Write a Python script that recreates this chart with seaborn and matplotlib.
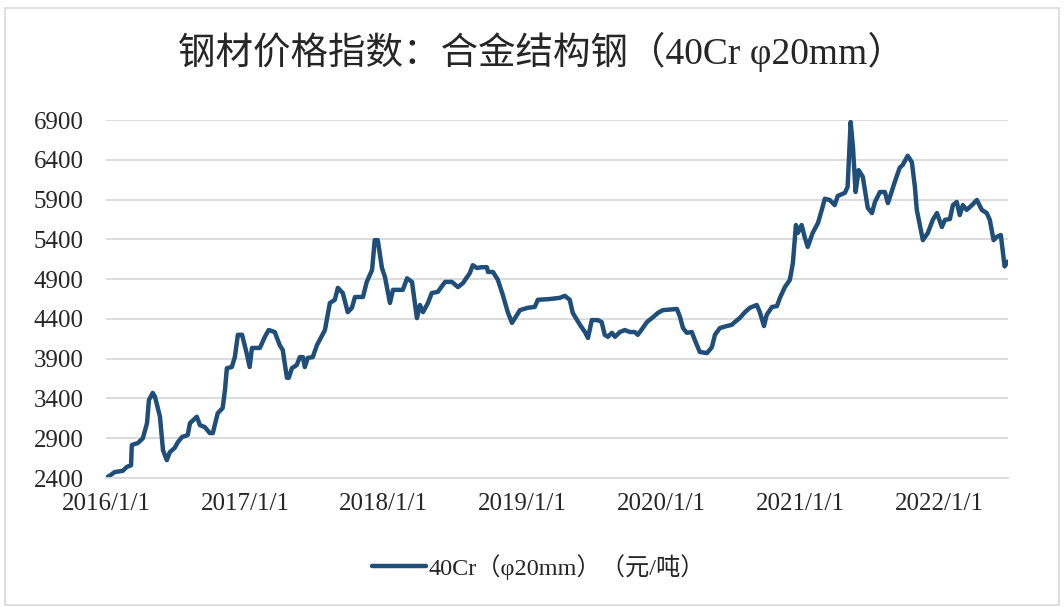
import pandas as pd
import matplotlib
matplotlib.use('Agg')
import matplotlib.pyplot as plt
import matplotlib.dates as mdates
from matplotlib.patches import Rectangle
import seaborn as sns

# ── DATA ───────────────────────────────────────────────────────────────────
dates = [
    '2016-01-01', '2016-01-11', '2016-01-24', '2016-02-14', '2016-02-25', '2016-03-07',
    '2016-03-09', '2016-03-25', '2016-04-07', '2016-04-18', '2016-04-23', '2016-05-03',
    '2016-05-09', '2016-05-22', '2016-05-30', '2016-06-09', '2016-06-17', '2016-06-30',
    '2016-07-08', '2016-07-19', '2016-08-03', '2016-08-09', '2016-08-27', '2016-09-04',
    '2016-09-17', '2016-09-30', '2016-10-08', '2016-10-21', '2016-11-03', '2016-11-09',
    '2016-11-14', '2016-11-27', '2016-12-05', '2016-12-13', '2016-12-24', '2017-01-05',
    '2017-01-13', '2017-01-19', '2017-02-09', '2017-02-22', '2017-03-04', '2017-03-20',
    '2017-04-02', '2017-04-10', '2017-04-21', '2017-04-26', '2017-05-04', '2017-05-17',
    '2017-05-25', '2017-06-02', '2017-06-07', '2017-06-15', '2017-06-28', '2017-07-09',
    '2017-07-30', '2017-08-12', '2017-08-25', '2017-09-02', '2017-09-15', '2017-09-28',
    '2017-10-09', '2017-10-17', '2017-11-07', '2017-11-17', '2017-12-01', '2017-12-08',
    '2017-12-16', '2017-12-27', '2018-01-04', '2018-01-17', '2018-01-25', '2018-02-20',
    '2018-03-03', '2018-03-16', '2018-03-29', '2018-04-06', '2018-04-14', '2018-04-27',
    '2018-05-07', '2018-05-23', '2018-06-11', '2018-06-29', '2018-07-15', '2018-07-28',
    '2018-08-15', '2018-08-23', '2018-09-03', '2018-09-16', '2018-09-29', '2018-10-02',
    '2018-10-15', '2018-10-28', '2018-11-10', '2018-11-23', '2018-12-04', '2018-12-12',
    '2018-12-25', '2019-01-15', '2019-02-02', '2019-02-10', '2019-03-14', '2019-04-09',
    '2019-04-22', '2019-05-05', '2019-05-13', '2019-06-01', '2019-06-14', '2019-06-22',
    '2019-07-02', '2019-07-18', '2019-07-28', '2019-08-05', '2019-08-13', '2019-08-24',
    '2019-09-01', '2019-09-14', '2019-09-27', '2019-10-10', '2019-10-23', '2019-10-31',
    '2019-11-13', '2019-11-24', '2019-12-07', '2019-12-23', '2020-01-05', '2020-02-11',
    '2020-02-19', '2020-02-27', '2020-03-08', '2020-03-21', '2020-03-29', '2020-04-11',
    '2020-04-30', '2020-05-13', '2020-05-21', '2020-06-03', '2020-06-21', '2020-07-04',
    '2020-07-12', '2020-07-25', '2020-08-08', '2020-08-21', '2020-09-08', '2020-09-16',
    '2020-09-27', '2020-10-04', '2020-10-18', '2020-10-31', '2020-11-08', '2020-11-21',
    '2020-12-04', '2020-12-12', '2020-12-20', '2020-12-25', '2021-01-04', '2021-01-12',
    '2021-01-20', '2021-02-02', '2021-02-16', '2021-02-26', '2021-03-06', '2021-03-19',
    '2021-04-01', '2021-04-09', '2021-04-28', '2021-05-05', '2021-05-13', '2021-05-19',
    '2021-05-26', '2021-06-03', '2021-06-14', '2021-06-27', '2021-07-08', '2021-07-16',
    '2021-07-29', '2021-08-11', '2021-08-19', '2021-09-06', '2021-09-19', '2021-09-27',
    '2021-10-10', '2021-10-21', '2021-10-29', '2021-11-03', '2021-11-19', '2021-12-02',
    '2021-12-15', '2021-12-26', '2022-01-08', '2022-01-16', '2022-01-29', '2022-02-06',
    '2022-02-16', '2022-02-24', '2022-03-04', '2022-03-14', '2022-03-28', '2022-04-10',
    '2022-04-23', '2022-05-06', '2022-05-14', '2022-05-24', '2022-06-01', '2022-06-12',
    '2022-06-22', '2022-06-30',
]
prices = [
    2400, 2430, 2475, 2490, 2540, 2560,
    2815, 2840, 2900, 3090, 3380, 3470,
    3420, 3170, 2750, 2625, 2725, 2780,
    2850, 2915, 2940, 3090, 3170, 3065,
    3040, 2965, 2965, 3215, 3280, 3505,
    3780, 3795, 3920, 4200, 4200, 3970,
    3795, 4035, 4035, 4175, 4260, 4235,
    4070, 4010, 3660, 3660, 3780, 3820,
    3920, 3920, 3795, 3910, 3920, 4070,
    4260, 4600, 4640, 4790, 4725, 4485,
    4540, 4675, 4675, 4865, 5015, 5390,
    5390, 5040, 4925, 4600, 4765, 4765,
    4910, 4865, 4410, 4575, 4485, 4600,
    4725, 4740, 4865, 4865, 4800, 4850,
    4975, 5075, 5040, 5050, 5050, 4990,
    4990, 4890, 4700, 4485, 4350, 4410,
    4510, 4540, 4550, 4640, 4650, 4665,
    4690, 4640, 4475, 4325, 4235, 4160,
    4385, 4385, 4360, 4200, 4175, 4225,
    4175, 4235, 4260, 4235, 4235, 4200,
    4285, 4360, 4410, 4475, 4510, 4525,
    4425, 4285, 4225, 4235, 4135, 3985,
    3970, 4045, 4200, 4285, 4310, 4325,
    4360, 4410, 4485, 4540, 4575, 4485,
    4310, 4450, 4550, 4560, 4665, 4800,
    4890, 5100, 5580, 5480, 5580, 5430,
    5305, 5480, 5605, 5770, 5910, 5895,
    5830, 5945, 5985, 6060, 6875, 6560,
    5995, 6270, 6185, 5795, 5730, 5870,
    5995, 5995, 5855, 6120, 6300, 6335,
    6450, 6370, 6060, 5770, 5390, 5480,
    5645, 5730, 5555, 5645, 5655, 5830,
    5870, 5705, 5830, 5770, 5830, 5895,
    5770, 5730, 5645, 5390, 5430, 5455,
    5060, 5120,
]
y_ticks = [2400, 2900, 3400, 3900, 4400, 4900, 5400, 5900, 6400, 6900]
x_ticks = ['2016-01-01', '2017-01-01', '2018-01-01', '2019-01-01',
           '2020-01-01', '2021-01-01', '2022-01-01']
series_name = '40Cr（φ20mm）（元/吨）'
title = '钢材价格指数：合金结构钢（40Cr φ20mm）'

df = pd.DataFrame({'date': pd.to_datetime(dates), 'price': prices})

# ── STYLE ──────────────────────────────────────────────────────────────────
sns.set_style('white')
FONTS = ['Liberation Serif', 'Noto Sans CJK SC', 'DejaVu Sans']
plt.rcParams['font.family'] = FONTS
LINE = '#1f4e79'
GRID = '#d9d9d9'

fig = plt.figure(figsize=(10.64, 6.07), dpi=100)
ax = fig.add_axes([0.0996, 0.2125, 0.8478, 0.5898])

sns.lineplot(data=df, x='date', y='price', ax=ax, color=LINE,
             linewidth=3.2, label=series_name)

ax.set_ylim(2400, 6900)
ax.set_yticks(y_ticks)
ax.set_xlim(pd.Timestamp('2016-01-01'), pd.Timestamp('2022-07-01'))
ax.set_xticks(pd.to_datetime(x_ticks))
ax.xaxis.set_major_formatter(mdates.DateFormatter('%Y/%-m/%-d'))
ax.set_xlabel('');  ax.set_ylabel('')

ax.grid(axis='y', color=GRID, linewidth=1.3)
ax.set_axisbelow(True)
for s in ['top', 'right', 'left']:
    ax.spines[s].set_visible(False)
ax.spines['bottom'].set_color(GRID)
ax.spines['bottom'].set_linewidth(1.3)
ax.tick_params(axis='y', length=0, pad=16, labelsize=18)
ax.tick_params(axis='x', length=5, width=1.3, color=GRID, pad=6, labelsize=18)

fig.suptitle(title, x=0.509, y=0.914, va='center', fontsize=27)

ax.get_legend().remove()
h, l = ax.get_legend_handles_labels()
fig.legend(h, l, loc='center', bbox_to_anchor=(0.506, 0.066), frameon=False,
           fontsize=17.5, handlelength=2.2, handletextpad=0.1)

fig.patches.append(Rectangle((0.005, 0.003), 0.99, 0.983, transform=fig.transFigure,
                             fill=False, edgecolor=GRID, linewidth=1.2))

fig.savefig('out.png', dpi=100)
